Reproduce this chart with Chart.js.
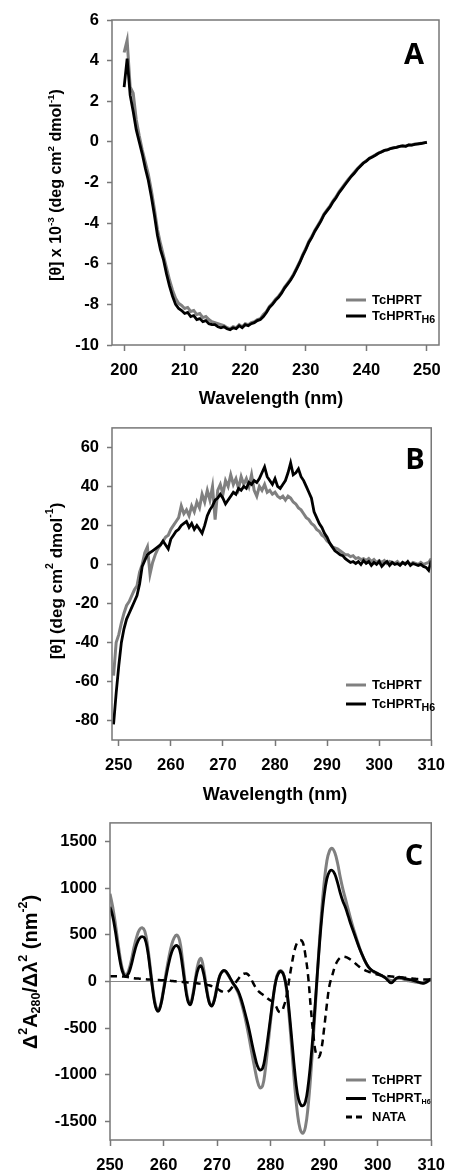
<!DOCTYPE html>
<html>
<head>
<meta charset="utf-8">
<script src="https://cdn.jsdelivr.net/npm/chart.js@4.4.1/dist/chart.umd.min.js"></script>
<style>
  body { margin: 0; background: #fff; }
  #wrap { position: relative; width: 455px; height: 1170px; overflow: hidden; }
  canvas { position: absolute; left: 0; }
</style>
</head>
<body>
<div id="wrap">
  <canvas id="chartA" width="455" height="410" style="top:0px"></canvas>
  <canvas id="chartB" width="455" height="395" style="top:410px"></canvas>
  <canvas id="chartC" width="455" height="365" style="top:805px"></canvas>
</div>
<script>
/* 데이터 */
// A : far-UV CD, 200-250 nm (0.5 nm)
const wlA = [];
for (var i = 0; i <= 100; i++) wlA.push(200 + i * 0.5);
const hprtA = [
  4.4, 5.0, 2.7, 2.4, 1.1, 0.3, -0.4, -1.0, -1.6, -2.4,
  -3.3, -4.3, -5.0, -5.6, -6.2, -6.8, -7.3, -7.7, -7.95, -8.05,
  -8.2, -8.15, -8.35, -8.3, -8.5, -8.45, -8.65, -8.6, -8.75, -8.85,
  -8.9, -8.95, -9.0, -9.05, -9.15, -9.2, -9.1, -9.15, -9.0, -9.1,
  -8.95, -9.0, -8.9, -8.85, -8.75, -8.7, -8.5, -8.35, -8.1, -7.95,
  -7.75, -7.6, -7.4, -7.15, -6.95, -6.75, -6.5, -6.2, -5.9, -5.55,
  -5.25, -4.9, -4.65, -4.35, -4.1, -3.85, -3.55, -3.35, -3.15, -2.9,
  -2.7, -2.45, -2.25, -2.05, -1.85, -1.68, -1.5, -1.33, -1.18, -1.03,
  -0.93, -0.8, -0.72, -0.64, -0.55, -0.48, -0.42, -0.38, -0.32, -0.29,
  -0.26, -0.22, -0.19, -0.21, -0.15, -0.15, -0.11, -0.1, -0.07, -0.05,
  -0.02
];
const h6A = [
  2.7, 4.1, 2.3, 1.5, 0.6, 0.0, -0.6, -1.3, -1.9, -2.7,
  -3.6, -4.6, -5.3, -5.8, -6.5, -7.1, -7.6, -8.0, -8.2, -8.3,
  -8.45, -8.4, -8.6, -8.55, -8.75, -8.7, -8.85, -8.8, -8.95, -9.0,
  -9.0, -9.1, -9.15, -9.1, -9.2, -9.25, -9.15, -9.2, -9.05, -9.15,
  -9.0, -9.05, -8.95, -8.9, -8.8, -8.75, -8.6, -8.4, -8.15, -8.0,
  -7.8, -7.65, -7.45, -7.2, -7.0, -6.8, -6.55, -6.25, -5.95, -5.6,
  -5.3, -4.95, -4.7, -4.4, -4.15, -3.9, -3.6, -3.4, -3.2, -2.95,
  -2.75, -2.5, -2.3, -2.1, -1.9, -1.7, -1.55, -1.35, -1.2, -1.05,
  -0.95, -0.82, -0.74, -0.66, -0.56, -0.5, -0.42, -0.4, -0.33, -0.3,
  -0.27, -0.22, -0.2, -0.22, -0.15, -0.16, -0.12, -0.1, -0.08, -0.05,
  -0.02
];
const ticksAx = [200, 210, 220, 230, 240, 250];
const ticksAy = [-10, -8, -6, -4, -2, 0, 2, 4, 6];

// B : near-UV CD, 249-310 nm (0.5 nm)
const wlB = [];
for (var i = 0; i <= 122; i++) wlB.push(249 + i * 0.5);
const hprtB = [
  -57, -40, -36, -30, -25, -21, -19, -16, -13, -11,
  -4, 0, 6, 9, -5, 1, 5, 8, 10, 12,
  14, 15, 18, 20, 22, 24, 30, 26, 28, 25,
  30, 27, 32, 29, 36, 32, 38, 33, 40, 23,
  38, 41, 36, 43, 40, 46, 41, 44, 39, 45,
  41, 44, 40, 46, 38, 35, 40, 38, 41, 37,
  38, 36, 37, 35, 34, 35, 33, 35, 34, 32,
  31, 29, 28, 26, 24, 23, 21, 20, 18, 17,
  15, 14, 12, 11, 9, 8.5, 8, 7, 6, 5,
  5, 4, 4.5, 3, 3.5, 2.5, 3, 2, 3, 1.5,
  2.5, 1, 2, 1, 2, 0.5, 1.5, 1, 0.5, 1.5,
  0, 1, 0.5, 1, 0, 1, 0.5, 0, 1, 0,
  0.5, 1, 3
];
const h6B = [
  -82, -66, -52, -40, -33, -28, -25, -22, -19, -16,
  -10, -1, 2, 5, 6, 7, 8, 9, 10, 12,
  10, 8, 13, 15, 17, 18, 20, 21, 22, 19,
  21, 18, 20, 18, 16, 20, 25, 28, 30, 33,
  34, 36, 34, 31, 33, 35, 37, 36, 39, 38,
  40, 39, 42, 41, 43, 42, 44, 47, 50, 45,
  43, 41, 44, 40, 39, 41, 43, 47, 52, 46,
  47, 49, 45, 43, 40, 37, 34, 27, 24, 21,
  19, 16, 14, 11, 9, 7, 6, 5, 4.5, 3,
  2, 1, 1.5, 0.5, 1.5, 0, 2, 0.5, 1.5, -0.5,
  1, 0, 1.5, -1, 0.5, 1.5, -0.5, 1, 0, 0.5,
  -0.5, 1, 0, 1.5, -0.5, 0.5, 0, -0.5, 0, -1,
  -1.5, -3, 2
];
const ticksBx = [250, 260, 270, 280, 290, 300, 310];
const ticksBy = [-80, -60, -40, -20, 0, 20, 40, 60];

// C : 2nd derivative spectra, 250-310 nm (0.5 nm)
const wlC = [];
for (var i = 0; i <= 120; i++) wlC.push(250 + i * 0.5);
const hprtC = [
  940, 800, 620, 410, 220, 100, 70, 120, 230, 370,
  480, 555, 576, 540, 390, 160, -80, -250, -305, -240,
  -80, 100, 260, 390, 470, 497, 440, 250, 10, -180,
  -240, -130, 50, 200, 247, 130, -50, -210, -260, -190,
  -50, 60, 105, 110, 75, 25, -25, -70, -130, -220,
  -330, -460, -610, -770, -920, -1060, -1140, -1120, -950, -690,
  -420, -170, 20, 100, 115, 60, -100, -400, -760, -1120,
  -1410, -1580, -1628, -1560, -1340, -1000, -580, -130, 320, 730,
  1060, 1290, 1400, 1427, 1380, 1270, 1120, 990, 880, 770,
  660, 560, 470, 380, 300, 235, 180, 140, 110, 95,
  80, 70, 55, 40, 20, 10, 15, 30, 35, 30,
  20, 10, 5, 0, -5, -10, -15, -15, -10, 5,
  20
];
const h6C = [
  800, 700, 540, 350, 180, 80, 55, 90, 180, 300,
  400, 460, 480, 460, 340, 130, -100, -270, -320, -250,
  -100, 60, 200, 310, 370, 385, 340, 180, -30, -200,
  -250, -150, 20, 140, 167, 80, -80, -220, -264, -200,
  -60, 60, 110, 115, 80, 30, -20, -60, -110, -190,
  -290, -400, -520, -660, -790, -900, -950, -930, -800, -600,
  -380, -160, 10, 90, 107, 60, -80, -340, -650, -960,
  -1200, -1310, -1333, -1290, -1120, -850, -500, -100, 300, 650,
  920, 1100, 1180, 1191, 1150, 1060, 950, 860, 790, 700,
  610, 530, 450, 370, 300, 235, 180, 140, 115, 100,
  85, 70, 55, 35, 5, -15, 5, 35, 45, 40,
  30, 25, 20, 15, 5, -5, -15, -20, -10, 10,
  28
];
const nataC = [
  55, 55, 55, 55, 55, 53, 50, 45, 40, 35,
  32, 30, 28, 25, 22, 20, 18, 16, 15, 14,
  12, 10, 8, 5, 3, 0, -2, -5, -8, -10,
  -12, -15, -18, -22, -25, -30, -35, -40, -50, -60,
  -75, -95, -110, -118, -110, -85, -50, -10, 30, 65,
  82, 85, 60, 10, -45, -90, -118, -140, -160, -185,
  -205, -225, -265, -320, -326, -260, -150, 30, 200, 340,
  420, 445, 420, 280, 60, -280, -580, -780, -812, -720,
  -500, -250, -40, 60, 160, 220, 255, 265, 262, 250,
  232, 210, 185, 160, 140, 125, 110, 100, 90, 80,
  73, 68, 63, 60, 57, 54, 51, 49, 46, 43,
  40, 37, 34, 31, 28, 25, 23, 22, 21, 21,
  21
];
const ticksCx = [250, 260, 270, 280, 290, 300, 310];
const ticksCy = [-1500, -1000, -500, 0, 500, 1000, 1500];

const GRAY = '#808080';
const AXIS = '#777777';
const FONT = "'Liberation Sans', Arial, sans-serif";

Chart.defaults.font.family = FONT;
Chart.defaults.font.weight = 'bold';
Chart.defaults.font.size = 16;
Chart.defaults.color = '#000';

function pts(xs, ys) {
  return ys.map(function (v, i) { return { x: xs[i], y: v }; });
}

// 위첨자/아래첨자 텍스트 그리기
function richText(ctx, parts, x, y, size, rotate, align, subScale) {
  const sc = subScale || 0.62;
  ctx.save();
  ctx.translate(x, y);
  if (rotate) ctx.rotate(-Math.PI / 2);
  ctx.textBaseline = 'middle';
  ctx.textAlign = 'left';
  ctx.fillStyle = '#000';
  let total = 0;
  parts.forEach(function (p) {
    let s = p[1] ? size * sc : size;
    ctx.font = 'bold ' + s + 'px ' + FONT;
    total += ctx.measureText(p[0]).width;
  });
  let cx = align === 'left' ? 0 : -total / 2;
  parts.forEach(function (p) {
    let s = p[1] ? size * sc : size;
    let dy = p[1] === 'sup' ? -size * 0.38 : (p[1] === 'sub' ? size * 0.28 : 0);
    ctx.font = 'bold ' + s + 'px ' + FONT;
    ctx.fillText(p[0], cx, dy);
    cx += ctx.measureText(p[0]).width;
  });
  ctx.restore();
}

function legendRows(ctx, rows, y0, gap, subScale) {
  rows.forEach(function (r, i) {
    let y = y0 + i * gap;
    ctx.save();
    ctx.strokeStyle = r.color;
    ctx.lineWidth = 3;
    if (r.dash) ctx.setLineDash([6, 4]);
    ctx.beginPath();
    ctx.moveTo(346, y);
    ctx.lineTo(366, y);
    ctx.stroke();
    ctx.restore();
    let parts = [[r.label, null]];
    if (r.sub) parts.push([r.sub, 'sub']);
    richText(ctx, parts, 372, y, 13, false, 'left', subScale);
  });
}

function decoPlugin(draw) {
  return {
    id: 'deco',
    afterDraw: function (chart) {
      const ctx = chart.ctx;
      const a = chart.chartArea;
      ctx.save();
      ctx.strokeStyle = AXIS;
      ctx.lineWidth = 1.5;
      ctx.strokeRect(a.left, a.top, a.right - a.left, a.bottom - a.top);
      ctx.restore();
      draw(ctx, a);
    }
  };
}

function makeScales(xr, yr, tx, ty, yWidth, xHeight, zeroLine) {
  return {
    x: {
      type: 'linear', min: xr[0], max: xr[1],
      afterBuildTicks: function (s) { s.ticks = tx.map(function (v) { return { value: v }; }); },
      afterFit: function (s) { s.height = xHeight; },
      grid: { drawOnChartArea: false, tickLength: 6, tickColor: AXIS, tickWidth: 1.5 },
      border: { display: false },
      ticks: { padding: 10, maxRotation: 0, font: { size: 16.5 }, callback: function (v) { return v; } }
    },
    y: {
      type: 'linear', min: yr[0], max: yr[1],
      afterBuildTicks: function (s) { s.ticks = ty.map(function (v) { return { value: v }; }); },
      afterFit: function (s) { s.width = yWidth; },
      grid: {
        drawOnChartArea: !!zeroLine, tickLength: 5, tickColor: AXIS, tickWidth: 1.5,
        color: function (c) { return (zeroLine && c.tick && c.tick.value === 0) ? '#888' : 'rgba(0,0,0,0)'; },
        lineWidth: 1
      },
      border: { display: false },
      ticks: { padding: 8, font: { size: 16.5 }, callback: function (v) { return v; } }
    }
  };
}

const baseOpts = {
  responsive: false,
  animation: false,
  plugins: { legend: { display: false }, tooltip: { enabled: false } },
  elements: { point: { radius: 0 } }
};

/* A */
new Chart(document.getElementById('chartA'), {
  type: 'line',
  data: {
    datasets: [
      { label: 'TcHPRT', data: pts(wlA, hprtA), borderColor: GRAY, borderWidth: 3, tension: 0, order: 2 },
      { label: 'TcHPRTH6', data: pts(wlA, h6A), borderColor: '#000', borderWidth: 2.8, tension: 0, order: 1 }
    ]
  },
  options: Object.assign({}, baseOpts, {
    layout: { padding: { top: 20, right: 16, left: 0, bottom: 0 } },
    scales: makeScales([198, 252], [-10, 6], ticksAx, ticksAy, 112, 65, false)
  }),
  plugins: [decoPlugin(function (ctx, a) {
    richText(ctx, [['[θ] x 10', null], ['-3', 'sup'], [' (deg cm', null], ['2', 'sup'], [' dmol', null], ['-1', 'sup'], [')', null]], 57, 185, 16, true);
    richText(ctx, [['Wavelength (nm)', null]], 271, 399, 18, false);
    ctx.font = 'bold 29px "Open Sans"';
    ctx.textAlign = 'center'; ctx.textBaseline = 'middle';
    ctx.fillText('A', 414, 56);
    legendRows(ctx, [
      { color: GRAY, label: 'TcHPRT' },
      { color: '#000', label: 'TcHPRT', sub: 'H6' }
    ], 300, 16, 0.82);
  })]
});

/* B */
new Chart(document.getElementById('chartB'), {
  type: 'line',
  data: {
    datasets: [
      { label: 'TcHPRT', data: pts(wlB, hprtB), borderColor: GRAY, borderWidth: 3, tension: 0, order: 2 },
      { label: 'TcHPRTH6', data: pts(wlB, h6B), borderColor: '#000', borderWidth: 2.8, tension: 0, order: 1 }
    ]
  },
  options: Object.assign({}, baseOpts, {
    layout: { padding: { top: 4, right: 16, left: 0, bottom: 0 } },
    scales: makeScales([248.7, 310], [-90, 70], ticksBx, ticksBy, 112, 65, false)
  }),
  plugins: [decoPlugin(function (ctx, a) {
    richText(ctx, [['[θ] (deg cm', null], ['2', 'sup'], [' dmol', null], ['-1', 'sup'], [')', null]], 57, 171, 17, true);
    richText(ctx, [['Wavelength (nm)', null]], 275, 385, 18, false);
    ctx.font = 'bold 29px "Open Sans"';
    ctx.textAlign = 'center'; ctx.textBaseline = 'middle';
    ctx.fillText('B', 415, 51);
    legendRows(ctx, [
      { color: GRAY, label: 'TcHPRT' },
      { color: '#000', label: 'TcHPRT', sub: 'H6' }
    ], 275, 19, 0.82);
  })]
});

/* C */
new Chart(document.getElementById('chartC'), {
  type: 'line',
  data: {
    datasets: [
      { label: 'TcHPRT', data: pts(wlC, hprtC), borderColor: GRAY, borderWidth: 3, tension: 0.4, order: 3 },
      { label: 'TcHPRTH6', data: pts(wlC, h6C), borderColor: '#000', borderWidth: 2.8, tension: 0.4, order: 2 },
      { label: 'NATA', data: pts(wlC, nataC), borderColor: '#000', borderWidth: 2.5, borderDash: [7, 5], tension: 0.4, order: 1 }
    ]
  },
  options: Object.assign({}, baseOpts, {
    layout: { padding: { top: 10, right: 17, left: 0, bottom: 0 } },
    scales: makeScales([250, 310], [-1700, 1700], ticksCx, ticksCy, 110, 30, true)
  }),
  plugins: [decoPlugin(function (ctx, a) {
    richText(ctx, [['Δ', null], ['2', 'sup'], ['A', null], ['280', 'sub'], ['/Δλ', null], ['2', 'sup'], [' (nm', null], ['-2', 'sup'], [')', null]], 31, 167, 20, true);
    ctx.font = 'bold 29px "Open Sans"';
    ctx.textAlign = 'center'; ctx.textBaseline = 'middle';
    ctx.fillText('C', 414, 52);
    legendRows(ctx, [
      { color: GRAY, label: 'TcHPRT' },
      { color: '#000', label: 'TcHPRT', sub: 'H6' },
      { color: '#000', label: 'NATA', dash: true }
    ], 275, 18.5, 0.55);
  })]
});
</script>
</body>
</html>
